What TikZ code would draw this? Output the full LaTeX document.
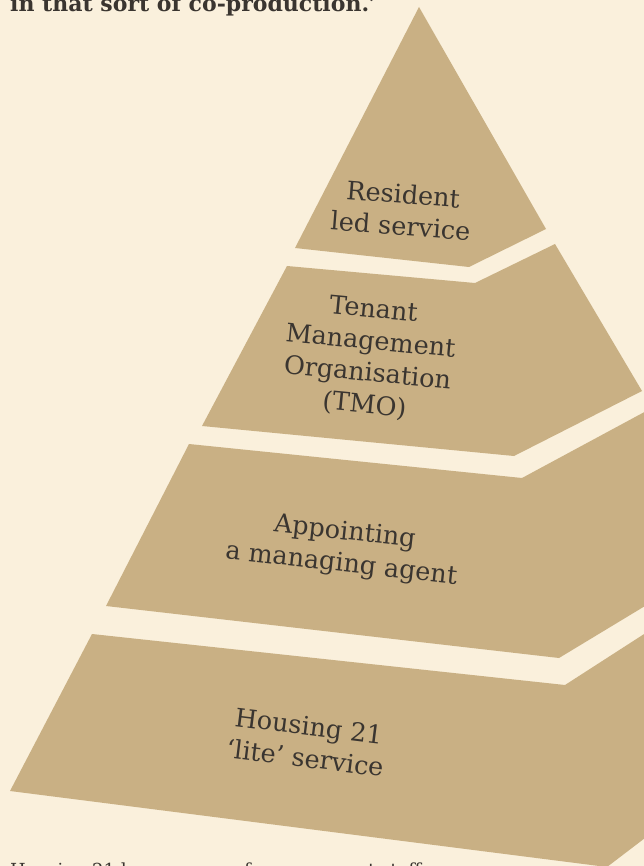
\documentclass[tikz,border=0pt]{standalone}
\usepackage{fontspec}
\setmainfont{DejaVu Serif}
\definecolor{paper}{RGB}{250,240,220}
\definecolor{tier}{RGB}{201,176,132}
\definecolor{ink}{RGB}{58,53,48}
\begin{document}
\begin{tikzpicture}[x=1pt,y=-1pt,
  tierlabel/.style={text=ink, align=center, inner sep=0pt,
    font=\fontsize{25.5}{32}\selectfont},
  bodytext/.style={text=ink, inner sep=0pt, anchor=base west}]
% page
\fill[paper] (0,0) rectangle (644,866);
\useasboundingbox (0,0) rectangle (644,866);
\clip (0,0) rectangle (644,866);

% pyramid tiers, top to bottom
\fill[tier] (419,7) -- (546,229) -- (469,267) -- (295,248) -- cycle;
\fill[tier] (287,266) -- (475,283) -- (555,244) -- (642,391) -- (514,456) -- (202,426) -- cycle;
\fill[tier] (189,444) -- (522,478) -- (650,409) -- (736,551) -- (559,658) -- (106,606) -- cycle;
\fill[tier] (92,634) -- (565,685) -- (745,569) -- (822,703) -- (607,867) -- (10,791) -- cycle;

% tier labels
\node[tierlabel, rotate=-4.5] (resident) at (402,210) {Resident\\led service};
\node[tierlabel, rotate=-5.5] (tmo) at (369,358) {Tenant\\Management\\Organisation\\(TMO)};
\node[tierlabel, rotate=-6.3] (agent) at (343,549) {Appointing\\a managing agent};
\node[tierlabel, rotate=-7] (lite) at (307,742) {Housing 21\\‘lite’ service};

% running text above and below
\node[bodytext, font=\bfseries\fontsize{22}{26}\selectfont] (above) at (10,12) {in that sort of co-production.’};
\node[bodytext, font=\fontsize{18}{24}\selectfont] (below) at (10,876) {Housing 21 has a range of management staff};
\end{tikzpicture}
\end{document}
